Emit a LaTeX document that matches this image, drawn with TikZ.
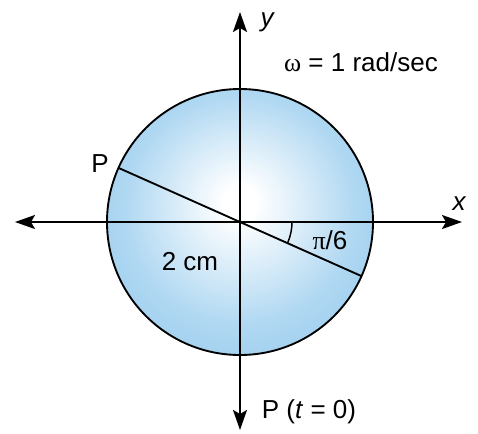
\documentclass[tikz,border=0pt]{standalone}
\usepackage{fontspec}
\setmainfont{Liberation Sans}
\newfontfamily\grk{Liberation Serif}
\usetikzlibrary{arrows.meta}
\definecolor{diskblue}{RGB}{140,198,236}
\pgfdeclareradialshading{disk}{\pgfpoint{0bp}{4bp}}{%
  color(0bp)=(white); color(3bp)=(white); color(22bp)=(diskblue!70);
  color(40bp)=(diskblue); color(50bp)=(diskblue)}

\begin{document}
\begin{tikzpicture}[x=.75pt,y=.75pt,
  axis/.style={line width=1.5pt,{Stealth[length=15pt,width=10.5pt,inset=3pt]}-{Stealth[length=15pt,width=10.5pt,inset=3pt]}},
  rim/.style={line width=1.4pt},
  lbl/.style={font=\fontsize{19.5}{22}\selectfont,inner sep=0pt}]
\useasboundingbox (-240,-211) rectangle (238,222);
% disc
\coordinate (O) at (0,0);
\shade[shading=disk] (O) circle[radius=133];
\draw[rim] (O) circle[radius=133];
% axes
\coordinate (xl) at (-225,0);
\coordinate (xr) at (222,0);
\coordinate (yt) at (0,210);
\coordinate (yb) at (0,-208);
\draw[axis] (xl)--(xr);
\draw[axis] (yb)--(yt);
% diameter through P
\coordinate (P) at (156:133);
\coordinate (Q) at (-24:133);
\draw[rim] (P)--(Q);
\draw[line width=1.1pt] (0:52) arc[start angle=0,end angle=-24,radius=52];
% labels
\node[lbl] (ylbl) at (27,200) {\itshape y};
\node[lbl] (xlbl) at (219,18) {\itshape x};
\node[lbl] (omega) at (121,160) {{\grk ω} = 1 rad/sec};
\node[lbl] (plbl) at (-140,58) {P};
\node[lbl] (rlbl) at (-50,-40) {2 cm};
\node[lbl] (ang) at (90,-18) {{\grk π}/6};
\node[lbl] (p0) at (69,-190) {P (\textit{t} = 0)};
\end{tikzpicture}
\end{document}
